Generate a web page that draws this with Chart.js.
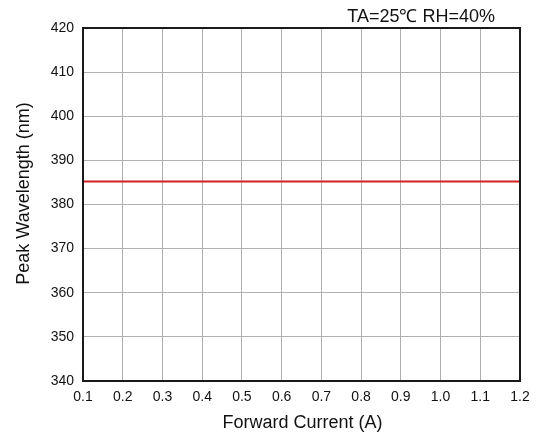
<!DOCTYPE html>
<html><head><meta charset="utf-8">
<script src="https://cdn.jsdelivr.net/npm/chart.js@4"></script>
<style>html,body{margin:0;padding:0;background:#fff}#c{display:block}</style>
</head><body>
<canvas id="c" width="543" height="436"></canvas>
<script>
const currents = [0.1,0.2,0.3,0.4,0.5,0.6,0.7,0.8,0.9,1.0,1.1,1.2];
const wavelength = [385.2,385.2,385.2,385.2,385.2,385.2,385.2,385.2,385.2,385.2,385.2,385.2];
const conditionText = 'TA=25\u2103 RH=40%';
const xTitle = 'Forward Current (A)';
const yTitle = 'Peak Wavelength (nm)';
const font = 'Liberation Sans, Arial, sans-serif';

const framePlugin = {
  id:'frame',
  afterDatasetsDraw(chart){
    const {ctx, chartArea:a} = chart;
    ctx.save();
    ctx.strokeStyle = '#1a1a1a';
    ctx.lineWidth = 2;
    ctx.strokeRect(a.left, a.top, a.right-a.left, a.bottom-a.top);
    ctx.fillStyle = '#111';
    ctx.textBaseline = 'alphabetic';
    // condition label
    ctx.font = '18px ' + font;
    ctx.textAlign = 'right';
    ctx.fillText(conditionText, a.right - 25, a.top - 6);
    // x axis title
    ctx.textAlign = 'center';
    ctx.fillText(xTitle, (a.left + a.right) / 2 + 1, a.bottom + 47);
    // y axis title
    ctx.translate(28.5, (a.top + a.bottom) / 2 - 11);
    ctx.rotate(-Math.PI / 2);
    ctx.fillText(yTitle, 0, 0);
    ctx.restore();
  }
};

new Chart(document.getElementById('c'), {
  type:'line',
  data:{ datasets:[{ data: currents.map((x,i)=>({x, y: wavelength[i]})), borderColor:'#d42020', borderWidth:2, pointRadius:0, tension:0 }]},
  options:{
    responsive:false, animation:false,
    layout:{ padding:{ top:28, right:23, left:8, bottom:0 } },
    plugins:{ legend:{display:false}, tooltip:{enabled:false} },
    scales:{
      x:{ type:'linear', min:0.1, max:1.2,
        ticks:{ stepSize:0.1, color:'#111', font:{family:font,size:14}, padding:8,
          callback:v=>Number(v).toFixed(1) },
        grid:{ color:'#b0b0b0', lineWidth:1, drawTicks:false },
        border:{ display:false },
        afterFit(s){ s.height = 55; }
      },
      y:{ min:340, max:420,
        ticks:{ stepSize:10, color:'#111', font:{family:font,size:14}, padding:9 },
        grid:{ color:'#b0b0b0', lineWidth:1, drawTicks:false },
        border:{ display:false },
        afterFit(s){ s.width = 75; }
      }
    }
  },
  plugins:[framePlugin]
});
</script>
</body></html>
